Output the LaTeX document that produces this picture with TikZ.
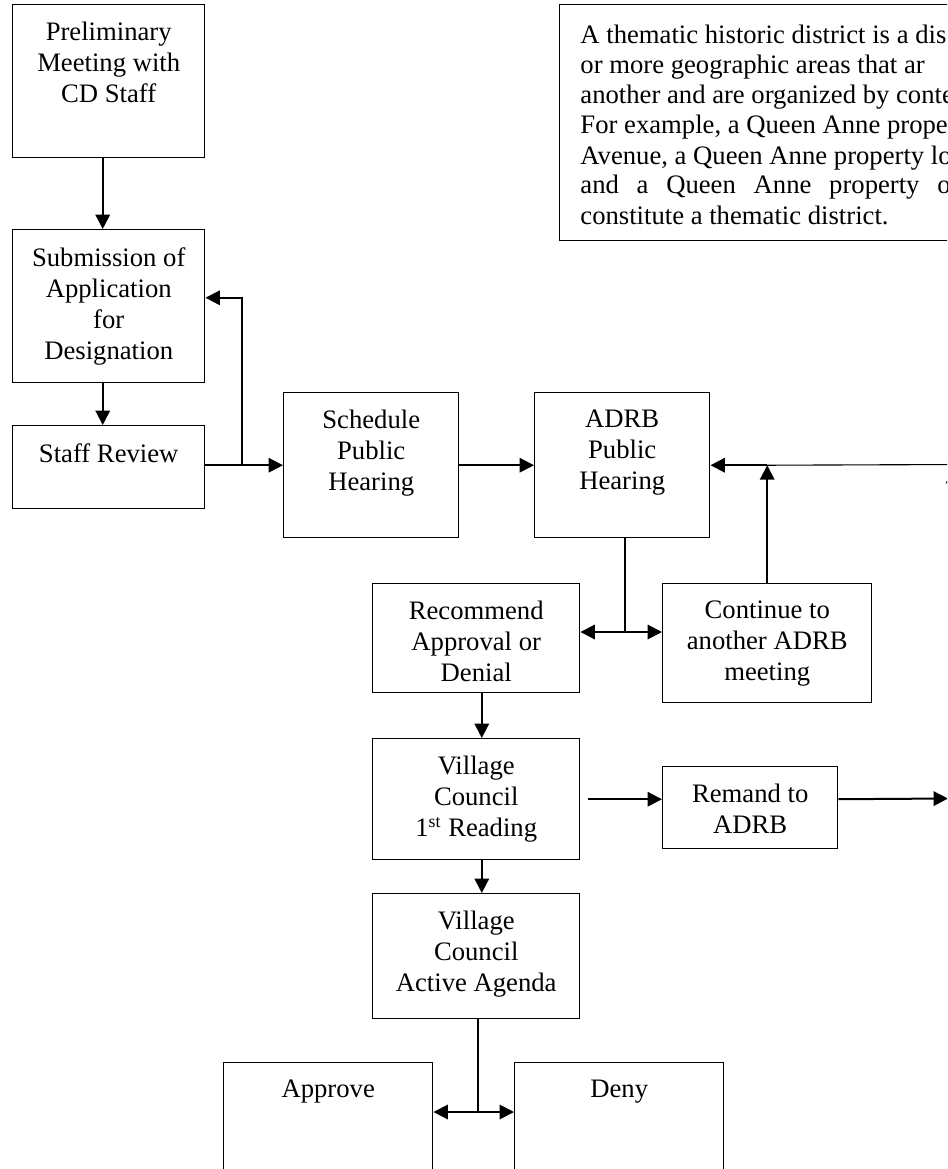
\documentclass[tikz,border=0pt]{standalone}
\usepackage{fontspec}
\setmainfont{Liberation Serif}
\usetikzlibrary{arrows.meta,calc}
\tikzset{
  boxst/.style={draw, line width=0.65pt, inner sep=0pt},
  txtst/.style={align=center, inner sep=0pt, font=\fontsize{12}{13.95}\selectfont},
  arr/.style={line width=0.9pt, -{Triangle[length=6.5pt,width=6.5pt]}},
  darr/.style={line width=0.9pt, {Triangle[length=6.5pt,width=6.5pt]}-{Triangle[length=6.5pt,width=6.5pt]}},
  thinln/.style={line width=0.5pt},
  para/.style={anchor=base west, inner sep=0pt, font=\fontsize{12}{13.5}\selectfont},
}
\newcommand\flowbox[6]{%
  \node[boxst, minimum width={(#4-#2)*0.45pt}, minimum height={(#5-#3)*0.45pt}, anchor=north west] (#1) at (#2,#3) {};
  \node[txtst, anchor=north] (#1t) at ([yshift=-8pt]#1.north) {#6};
}
\begin{document}
\begin{tikzpicture}[x=0.45pt,y=-0.45pt]
\useasboundingbox (0,0) rectangle (947,1169);
\clip (0,0) rectangle (947,1169);
\fill[white] (0,0) rectangle (947,1169);

\flowbox{prelim}{12}{4}{204}{157}{Preliminary\\Meeting with\\CD Staff}
\flowbox{subm}{12}{229}{204}{382}{Submission of\\Application\\for\\Designation}
\flowbox{staff}{12}{425}{204}{508}{Staff Review}
\flowbox{sched}{283}{392}{458}{537}{Schedule\\Public\\Hearing}
\flowbox{adrb}{534}{392}{709}{537}{ADRB\\Public\\Hearing}
\flowbox{recom}{372}{583}{579}{692}{Recommend\\Approval or\\Denial}
\flowbox{cont}{662}{583}{871}{702}{Continue to\\another ADRB\\meeting}
\flowbox{vc1}{372}{738}{579}{859}{Village\\Council\\1\textsuperscript{st} Reading}
\flowbox{remand}{662}{766}{837}{848}{Remand to\\ADRB}
\flowbox{vcaa}{372}{893}{579}{1018}{Village\\Council\\Active Agenda}
\flowbox{appr}{223}{1062}{432}{1200}{Approve}
\flowbox{deny}{514}{1062}{723}{1200}{Deny}

% thematic note
\node[boxst, minimum width={(1000-559)*0.45pt}, minimum height={(240-4)*0.45pt}, anchor=north west] (theme) at (559,4) {};
\node[para] (l1) at (580,44) {A thematic historic district is a dis};
\node[para] (l2) at (580,74) {or more geographic areas that ar};
\node[para] (l3) at (580,104) {another and are organized by conte};
\node[para] (l4) at (580,134) {For example, a Queen Anne prope};
\node[para] (l5) at (580,164) {Avenue, a Queen Anne property lo};
\node[para] (l6) at (580,194) {\makebox[166.6pt][s]{and a Queen Anne property o}};
\node[para] (l7) at (580,224) {constitute a thematic district.};

% connectors
\draw[arr] ([xshift=-2.7pt]prelim.south) -- ([xshift=-2.7pt]subm.north);
\draw[arr] ([xshift=-2.7pt]subm.south) -- ([xshift=-2.7pt]staff.north);
\draw[arr] (sched.west -| staff.east) -- (sched.west);
\coordinate (br) at (242,464.5);
\draw[arr] (br) |- ([yshift=3.8pt]subm.east);
\draw[arr] (sched.east) -- (adrb.west);
\coordinate (mj) at (cont.north |- adrb.east);
\draw[arr] (mj) -- (adrb.east);
\draw[arr] (cont.north) -- (mj);
\coordinate (rt) at (960,464.5);
\draw[thinln] (rt) -- (mj);
\coordinate (rb) at (953,798);
\coordinate (rtop) at (953,469);
\draw[arr] (rb) -- (rtop);
\coordinate (aj) at (625,632);
\draw[thinln] (aj |- adrb.south) -- (aj);
\draw[darr] (aj -| recom.east) -- (aj -| cont.west);
\draw[arr] ([xshift=2.5pt]recom.south) -- ([xshift=2.5pt]vc1.north);
\draw[arr] ([xshift=3.6pt]vc1.east) -- (vc1.east -| remand.west);
\coordinate (re) at (948,798.5);
\draw[arr] (vc1.east -| remand.east) -- (re);
\draw[arr] ([xshift=2.5pt]vc1.south) -- ([xshift=2.5pt]vcaa.north);
\coordinate (vj) at (478,1112);
\draw[thinln] (vj |- vcaa.south) -- (vj);
\draw[darr] (vj -| appr.east) -- (vj -| deny.west);
\end{tikzpicture}
\end{document}
